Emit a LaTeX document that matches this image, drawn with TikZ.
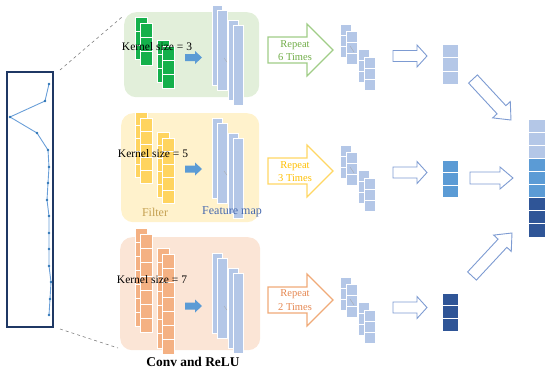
\documentclass[tikz,border=0pt]{standalone}
\usepackage{fontspec}
\setmainfont{Liberation Serif}
\usetikzlibrary{calc}
\definecolor{navy}{HTML}{1F3864}
\definecolor{sigline}{HTML}{6A9FD8}
\definecolor{sigdot}{HTML}{2E75B6}
\definecolor{gpan}{HTML}{E2EFDA}
\definecolor{ypan}{HTML}{FFF2CC}
\definecolor{opan}{HTML}{FBE5D6}
\definecolor{gfil}{RGB}{20,176,75}
\definecolor{yfil}{RGB}{255,212,95}
\definecolor{ofil}{HTML}{F4B183}
\definecolor{fm}{HTML}{B4C7E7}
\definecolor{bmid}{HTML}{5B9BD5}
\definecolor{bdark}{HTML}{2F5597}
\definecolor{hollow}{RGB}{125,155,210}
\definecolor{gA}{RGB}{160,205,135}
\definecolor{gT}{RGB}{112,173,71}
\definecolor{yA}{RGB}{255,215,100}
\definecolor{yT}{RGB}{255,192,0}
\definecolor{oA}{RGB}{240,170,120}
\definecolor{oT}{RGB}{230,135,80}
\definecolor{filtT}{RGB}{196,160,80}
\definecolor{fmT}{RGB}{70,105,175}

\newcommand{\cellcol}[6]{%
  \foreach \k in {1,...,#3}{\path[fill=#6, draw=white, line width=0.7pt] (#1,{#2+(\k-1)*#5}) rectangle ++(#4,#5);}}
\newcommand{\kfilter}[5]{\cellcol{#1}{#2}{#3}{12}{#4}{#5}\cellcol{#1+5}{#2+6}{#3}{12}{#4}{#5}}
\newcommand{\fmap}[1]{%
  \path[fill=fm, draw=white, line width=0.8pt] (212,#1) rectangle ++(10,80);
  \path[fill=fm, draw=white, line width=0.8pt] (217,#1+5) rectangle ++(10,80);
  \path[fill=fm, draw=white, line width=0.8pt] (228,#1+15) rectangle ++(10,80);
  \path[fill=fm, draw=white, line width=0.8pt] (233,#1+20) rectangle ++(10,80);
  \draw[gray!70, line width=0.3pt] (224,#1+53) -- (227,#1+57);}
\newcommand{\sstack}[1]{%
  \cellcol{340}{#1-26}{3}{11}{11}{fm}\cellcol{346}{#1-19}{3}{11}{11}{fm}%
  \cellcol{358}{#1-1}{3}{11}{11}{fm}\cellcol{364}{#1+7}{3}{11}{11}{fm}%
  \draw[gray!70, line width=0.3pt] (350,#1-4) -- (354,#1+2);}
% block arrow: style, from, to, body half, head half, head length
\newcommand{\barrow}[6]{%
  \coordinate (ba-H) at ($(#3)!#6!(#2)$);
  \draw[#1] ($(#2)!#4!90:(#3)$) -- ($(ba-H)!#4!90:(#3)$) -- ($(ba-H)!#5!90:(#3)$) -- (#3)
    -- ($(ba-H)!#5!-90:(#3)$) -- ($(ba-H)!#4!-90:(#3)$) -- ($(#2)!#4!-90:(#3)$) -- cycle;}

\begin{document}
\begin{tikzpicture}[x=1pt,y=-1pt,
  panel/.style={rounded corners=12pt, draw=none, anchor=north west, inner sep=0pt},
  kern/.style={font=\fontsize{11.5}{13}\selectfont, text=black, inner sep=0pt},
  rep/.style={font=\fontsize{10.5}{13.5}\selectfont, align=center, inner sep=0pt},
  hol/.style={draw=hollow, line width=0.9pt, fill=white},
  solidb/.style={fill=bmid, draw=none}]
\useasboundingbox (0,0) rectangle (550,375);

% ---------- signal box ----------
\node[draw=navy, line width=2pt, minimum width=46, minimum height=255, inner sep=0pt] (sig) at (30,199.5) {};
\draw[sigline, line width=0.9pt] plot coordinates {(49,84) (45,101) (10,117) (37,133) (48,150) (49,167) (48,183) (47,200) (49,216) (49,233) (49,249) (49,266) (51,282) (50,299) (49,315)};
\foreach \p in {(49,84),(45,101),(10,117),(37,133),(48,150),(49,167),(48,183),(47,200),(49,216),(49,233),(49,249),(49,266),(51,282),(50,299),(49,315)}
  \fill[sigdot] \p circle (1.4);

% ---------- panels ----------
\node[panel, fill=gpan, minimum width=135, minimum height=85] (gpanel) at (124,12) {};
\node[panel, fill=ypan, minimum width=138, minimum height=109] (ypanel) at (121,113) {};
\node[panel, fill=opan, minimum width=140, minimum height=113] (opanel) at (120,237) {};

\coordinate (ztop) at (122,17);
\coordinate (zbot) at (118,348);
\draw[gray, dashed, line width=0.6pt] ([xshift=6pt,yshift=1pt]sig.north east) -- (ztop);
\draw[gray, dashed, line width=0.6pt] ([xshift=6pt,yshift=-1pt]sig.south east) -- (zbot);

% filters
\kfilter{135}{17}{3}{14}{gfil}
\kfilter{157}{40}{3}{14}{gfil}
\kfilter{135}{112}{5}{13}{yfil}
\kfilter{157}{132}{5}{13}{yfil}
\kfilter{135}{228}{7}{14}{ofil}
\kfilter{157}{248}{7}{14.3}{ofil}

% feature maps
\fmap{5}
\fmap{118}
\fmap{253}

% small solid arrows
\coordinate (sg1) at (185,57.5); \coordinate (sg2) at (202,57.5);
\coordinate (sy1) at (185,169); \coordinate (sy2) at (202,169);
\coordinate (so1) at (185,306); \coordinate (so2) at (202,306);
\barrow{solidb}{sg1}{sg2}{3.5pt}{6.5pt}{7pt}
\barrow{solidb}{sy1}{sy2}{3.5pt}{6.5pt}{7pt}
\barrow{solidb}{so1}{so2}{3.5pt}{6.5pt}{7pt}

% labels
\node[kern] (kg) at (157,47) {Kernel size = 3};
\node[kern] (ky) at (153,154) {Kernel size = 5};
\node[kern] (ko) at (152,280) {Kernel size = 7};
\node[font=\fontsize{12}{14}\selectfont, text=filtT, inner sep=0pt] (filt) at (155,212) {Filter};
\node[font=\fontsize{12}{14}\selectfont, text=fmT, inner sep=0pt] (fmap) at (232,212) {Feature map};
\node[font=\fontsize{13.4}{15}\selectfont\bfseries, inner sep=0pt] (conv) at (193,362) {Conv and ReLU};

% repeat arrows
\coordinate (rg1) at (268,50); \coordinate (rg2) at (333,50);
\coordinate (ry1) at (268,171); \coordinate (ry2) at (333,171);
\coordinate (ro1) at (268,300); \coordinate (ro2) at (333,300);
\barrow{draw=gA, line width=1.1pt, fill=white}{rg1}{rg2}{13pt}{26pt}{26pt}
\barrow{draw=yA, line width=1.1pt, fill=white}{ry1}{ry2}{13pt}{26pt}{26pt}
\barrow{draw=oA, line width=1.1pt, fill=white}{ro1}{ro2}{13pt}{26pt}{26pt}
\node[rep, text=gT] (tg) at (295,50.5) {Repeat\\6 Times};
\node[rep, text=yT] (ty) at (295,171.5) {Repeat\\3 Times};
\node[rep, text=oT] (to) at (295,300) {Repeat\\2 Times};

% small stacks
\sstack{50}
\sstack{171}
\sstack{303}

% hollow arrows
\coordinate (hg1) at (393,56); \coordinate (hg2) at (427,56);
\coordinate (hy1) at (393,172.5); \coordinate (hy2) at (427,172.5);
\coordinate (ho1) at (393,307.5); \coordinate (ho2) at (427,307.5);
\barrow{hol}{hg1}{hg2}{5.5pt}{11pt}{10pt}
\barrow{hol}{hy1}{hy2}{5.5pt}{11pt}{10pt}
\barrow{hol}{ho1}{ho2}{5.5pt}{11pt}{10pt}

% output columns
\cellcol{442}{44}{3}{16}{13.5}{fm}
\cellcol{442}{160}{3}{16}{12.5}{bmid}
\cellcol{442}{293}{3}{16}{12.8}{bdark}

% final column
\cellcol{528}{119}{3}{17}{13.1}{fm}
\cellcol{528}{158.3}{3}{17}{13.1}{bmid}
\cellcol{528}{197.6}{3}{17}{13.1}{bdark}

% big hollow arrows
\coordinate (bg1) at (473,79); \coordinate (bg2) at (511,120);
\coordinate (by1) at (470,178); \coordinate (by2) at (513,178);
\coordinate (bo1) at (472,276); \coordinate (bo2) at (512,233);
\barrow{hol}{bg1}{bg2}{6pt}{12pt}{14pt}
\barrow{hol}{by1}{by2}{6pt}{11pt}{13pt}
\barrow{hol}{bo1}{bo2}{6pt}{12pt}{14pt}
\end{tikzpicture}
\end{document}
